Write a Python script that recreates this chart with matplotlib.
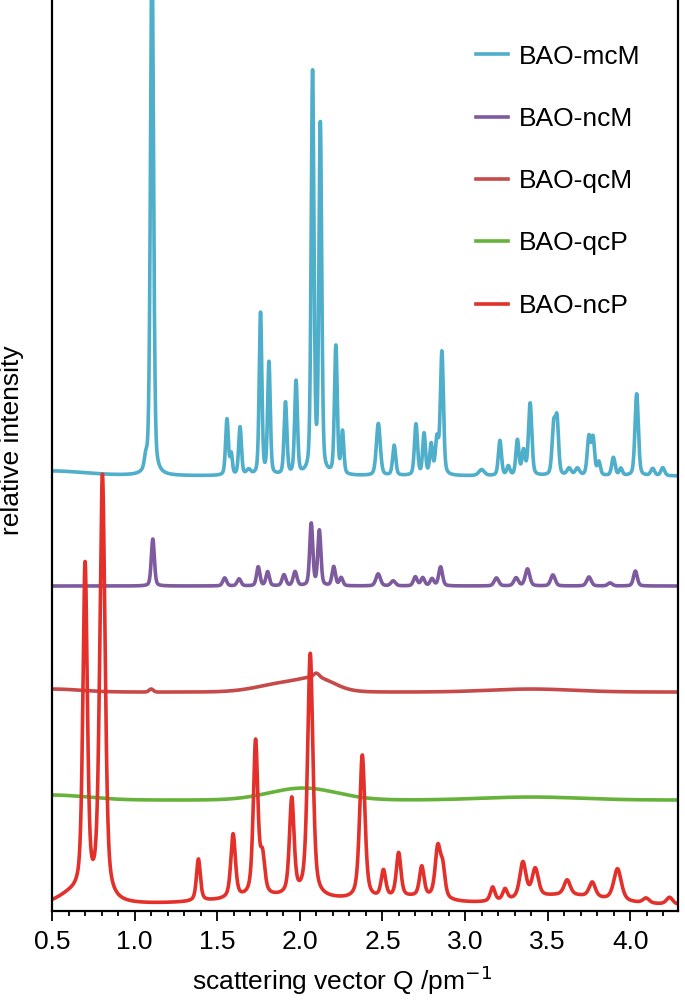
import numpy as np
import matplotlib
matplotlib.use("Agg")
import matplotlib.pyplot as plt
from matplotlib.ticker import MultipleLocator

plt.rcParams['font.family'] = ['Liberation Sans', 'DejaVu Sans']

# Peak tables: centre Q (1/pm), height above baseline, FWHM
# heights are in arbitrary units (about one unit per pixel of the original)
mcm_pos = [0.50, 1.067, 1.105, 1.559, 1.585, 1.638, 1.69, 1.762, 1.813, 1.913, 1.977,
           2.077, 2.124, 2.218, 2.258, 2.475, 2.571, 2.703, 2.752, 2.795, 2.83, 2.86,
           3.10, 3.211, 3.262, 3.317, 3.354, 3.394, 3.537, 3.557, 3.63, 3.68, 3.75,
           3.775, 3.81, 3.898, 3.943, 4.039, 4.136, 4.197]
mcm_amp = [5, 11, 530, 56, 20, 48, 5, 162, 112, 72, 93,
           400, 348, 128, 42, 52, 30, 51, 41, 30, 35, 123,
           6, 35, 9, 35, 24, 72, 49, 52, 7, 7, 38,
           36, 13, 18, 7, 82, 7, 8]
mcm_fwhm = [0.5, 0.02, 0.022, 0.02, 0.016, 0.02, 0.03, 0.019, 0.019, 0.02, 0.02,
            0.02, 0.02, 0.02, 0.019, 0.028, 0.022, 0.022, 0.02, 0.02, 0.022, 0.022,
            0.04, 0.022, 0.022, 0.022, 0.022, 0.024, 0.024, 0.022, 0.03, 0.03, 0.024,
            0.022, 0.022, 0.024, 0.022, 0.024, 0.027, 0.027]

ncm_pos = [1.11, 1.545, 1.632, 1.748, 1.805, 1.904, 1.971, 2.069, 2.118, 2.205, 2.25,
           2.474, 2.565, 2.699, 2.744, 2.80, 2.852, 3.19, 3.309, 3.378, 3.532,
           3.75, 3.878, 4.031]
ncm_amp = [47, 8, 7, 19, 14, 11, 14, 62, 55, 19, 8,
           12, 5, 9, 8, 7, 19, 8, 8, 17, 11,
           9, 3, 15]
ncm_fwhm = [0.022, 0.027, 0.027, 0.024, 0.024, 0.027, 0.027, 0.022, 0.022, 0.024, 0.024,
            0.032, 0.032, 0.027, 0.027, 0.027, 0.027, 0.032, 0.032, 0.032, 0.032,
            0.032, 0.032, 0.027]

qcm_pos = [0.50, 1.10, 1.95, 2.12, 2.10, 3.40]
qcm_amp = [3, 3, 10, 8, 4, 3]
qcm_fwhm = [0.4, 0.03, 0.42, 0.22, 0.04, 0.6]

qcp_pos = [0.50, 2.02, 3.40]
qcp_amp = [5, 12, 3]
qcp_fwhm = [0.5, 0.48, 0.7]

ncp_pos = [0.62, 0.70, 0.805, 1.386, 1.596, 1.732, 1.774, 1.951, 2.063, 2.378, 2.506,
           2.598, 2.738, 2.835, 2.865, 3.167, 3.242, 3.35, 3.425, 3.618, 3.77,
           3.923, 4.096, 4.238, 1.90, 2.70, 3.60]
ncp_amp = [10, 330, 425, 42, 64, 155, 36, 96, 243, 144, 27,
           44, 30, 50, 28, 14, 11, 36, 28, 15, 15,
           32, 5, 7, 8, 6, 10]
ncp_fwhm = [0.2, 0.032, 0.038, 0.028, 0.033, 0.033, 0.033, 0.033, 0.038, 0.038, 0.033,
            0.033, 0.033, 0.038, 0.033, 0.033, 0.033, 0.045, 0.045, 0.045, 0.045,
            0.055, 0.045, 0.045, 1.0, 0.4, 0.6]

# vertical offsets of the stacked patterns
offsets = {"BAO-mcM": 435, "BAO-ncM": 325, "BAO-qcM": 219, "BAO-qcP": 111, "BAO-ncP": 5}
colors = {"BAO-mcM": "#4FAECA", "BAO-ncM": "#7E5B9E", "BAO-qcM": "#C64A4A",
          "BAO-qcP": "#67B23A", "BAO-ncP": "#E3302A"}


def pattern(q, pos, amp, fwhm, eta=0.35):
    y = np.zeros_like(q)
    for p, a, w in zip(pos, amp, fwhm):
        hw = w / 2
        lor = 1 / (1 + ((q - p) / hw) ** 2)
        gau = np.exp(-np.log(2) * ((q - p) / hw) ** 2)
        y += a * (eta * lor + (1 - eta) * gau)
    return y


q = np.linspace(0.5, 4.29, 4000)
curves = {
    "BAO-mcM": pattern(q, mcm_pos, mcm_amp, mcm_fwhm, 0.35),
    "BAO-ncM": pattern(q, ncm_pos, ncm_amp, ncm_fwhm, 0.35),
    "BAO-qcM": pattern(q, qcm_pos, qcm_amp, qcm_fwhm, 0.0),
    "BAO-qcP": pattern(q, qcp_pos, qcp_amp, qcp_fwhm, 0.0),
    "BAO-ncP": pattern(q, ncp_pos, ncp_amp, ncp_fwhm, 0.55),
}

fig = plt.figure(figsize=(6.85, 10.06), dpi=100)
ax = fig.add_axes([0.076, 0.0944, 0.914, 0.9056])

for name, y in curves.items():
    ax.plot(q, y + offsets[name], color=colors[name], lw=2.6, label=name)

ax.set_xlim(0.5, 4.29)
ax.set_ylim(0, 911)
ax.xaxis.set_minor_locator(MultipleLocator(0.1))
ax.set_xticks(np.arange(0.5, 4.01, 0.5))
ax.set_xticklabels(["0.5", "1.0", "1.5", "2.0", "2.5", "3.0", "3.5", "4.0"])
ax.tick_params(axis='x', which='major', direction='out', length=7, width=1.3,
               labelsize=19, pad=7)
ax.tick_params(axis='x', which='minor', direction='out', length=3.5, width=1.3)
ax.set_yticks([])
ax.spines['top'].set_visible(False)
for s in ['left', 'right', 'bottom']:
    ax.spines[s].set_linewidth(1.6)

ax.set_xlabel("scattering vector Q /pm$^{-1}$", fontsize=19, labelpad=6)
ax.xaxis.set_label_coords(0.463, -0.058)
ax.set_ylabel("relative intensity", fontsize=19)
ax.yaxis.set_label_coords(-0.045, 0.517)

ax.legend(loc='upper right', bbox_to_anchor=(0.977, 0.977), frameon=False,
          fontsize=19, handlelength=1.2, handletextpad=0.4, labelspacing=1.45)

fig.savefig("out.png", dpi=100)
